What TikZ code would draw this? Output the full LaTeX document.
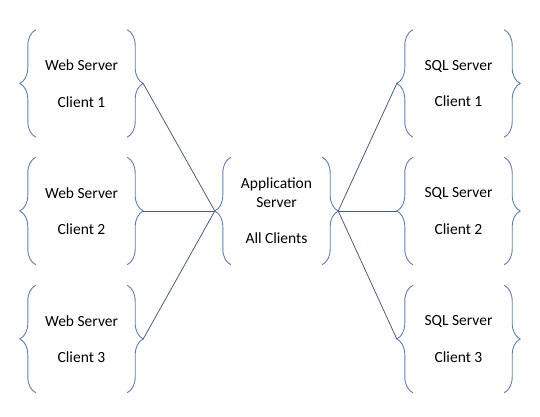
\documentclass[tikz,border=0pt]{standalone}
\usepackage{fontspec}
\setmainfont{Carlito}
\usetikzlibrary{decorations.pathreplacing}

\definecolor{bracecol}{RGB}{96,126,178}
\definecolor{linkcol}{RGB}{78,92,122}

\tikzset{
  clientbox/.style={minimum width=91pt,minimum height=107pt,align=center,inner sep=0pt,
    font=\fontsize{15.5}{18.5}\selectfont},
  curly/.style={decorate,decoration={brace,amplitude=16pt},draw=bracecol,line width=0.9pt},
  link/.style={draw=linkcol,line width=0.8pt}
}

\begin{document}
\begin{tikzpicture}[x=1pt,y=1pt]
    \useasboundingbox (0,0) rectangle (540,417);

    \node[clientbox] (app) at (276.5,206) {Application\\Server\\[18pt]All Clients};
    \draw[curly] (app.south west) -- (app.north west);
    \draw[curly] (app.north east) -- (app.south east);
    \coordinate (app-l) at ([xshift=-16pt]app.west);
    \coordinate (app-r) at ([xshift=16pt]app.east);

    \foreach \i/\y in {1/333.5,2/206,3/78}{
        \node[clientbox] (web\i) at (81.5,\y) {Web Server\\[18pt]Client \i};
        \node[clientbox] (sql\i) at (458.5,\y) {SQL Server\\[18pt]Client \i};
        \draw[curly] (web\i.south west) -- (web\i.north west);
        \draw[curly] (web\i.north east) -- (web\i.south east);
        \draw[curly] (sql\i.south west) -- (sql\i.north west);
        \draw[curly] (sql\i.north east) -- (sql\i.south east);
        \coordinate (web\i-r) at ([xshift=16pt]web\i.east);
        \coordinate (sql\i-l) at ([xshift=-16pt]sql\i.west);

        \draw[link] (web\i-r) -- (app-l);
        \draw[link] (app-r) -- (sql\i-l);
    }
\end{tikzpicture}
\end{document}
